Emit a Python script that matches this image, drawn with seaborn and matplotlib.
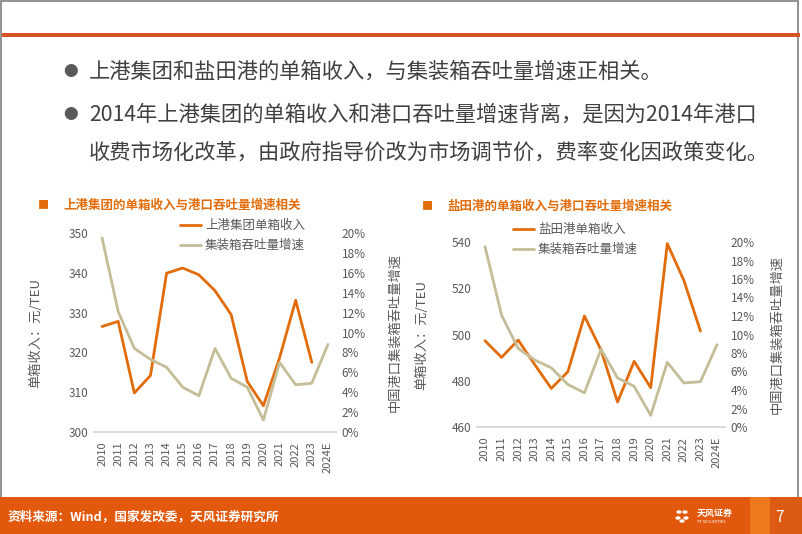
import numpy as np
import pandas as pd
import matplotlib
matplotlib.use('Agg')
import matplotlib.pyplot as plt
import seaborn as sns
from matplotlib.patches import Rectangle
from matplotlib.lines import Line2D

sns.set_theme(style='white')
plt.rcParams['font.family'] = ['Noto Sans CJK SC', 'DejaVu Sans']
plt.rcParams['axes.unicode_minus'] = False

# Daten
years = ['2010', '2011', '2012', '2013', '2014', '2015', '2016', '2017',
         '2018', '2019', '2020', '2021', '2022', '2023', '2024E']
sipg_income = [326.5, 327.8, 309.8, 314.2, 339.9, 341.2, 339.5, 335.5,
               329.5, 312.7, 306.6, 318.6, 333.1, 317.5, np.nan]
yantian_income = [497.3, 490.1, 497.6, 487.0, 476.7, 483.9, 508.0, 493.3,
                  470.8, 488.4, 477.0, 539.3, 523.4, 501.5, np.nan]
growth_left = [19.5, 12.1, 8.4, 7.3, 6.5, 4.5, 3.65, 8.4,
               5.4, 4.5, 1.2, 7.0, 4.75, 4.9, 8.8]
growth_right = [19.5, 12.1, 8.5, 7.24, 6.4, 4.6, 3.7, 8.4,
                5.3, 4.4, 1.26, 7.0, 4.76, 4.9, 8.9]

bullets = ['上港集团和盐田港的单箱收入，与集装箱吞吐量增速正相关。',
           '2014年上港集团的单箱收入和港口吞吐量增速背离，是因为2014年港口',
           '收费市场化改革，由政府指导价改为市场调节价，费率变化因政策变化。']
source = '资料来源：Wind，国家发改委，天风证券研究所'

ORANGE = '#E36C0A'
TAN = '#C4BD97'
GREY = '#595959'

W, H = 802, 534
fig = plt.figure(figsize=(W / 100, H / 100), dpi=100)


def px(x, y):
    # Pixel -> Figure-Koordinaten
    return x / W, 1 - y / H


# Rahmen und Kopfzeile
fig.patches.append(Rectangle((0.5 / W, 0), 797.5 / W, 1 - 0.5 / H, transform=fig.transFigure,
                             fill=False, edgecolor='#7F7F7F', lw=1.2, zorder=0))
fig.patches.append(Rectangle(px(2, 37), 798 / W, 4.5 / H, transform=fig.transFigure,
                             color='#D5541F', lw=0, zorder=1))

# Stichpunkte
for y, txt, dot in [(72, bullets[0], True), (115, bullets[1], True), (153, bullets[2], False)]:
    if dot:
        fig.text(*px(71, y), '●', fontsize=10.5, color=GREY, ha='center', va='center')
    fig.text(*px(89, y), txt, fontsize=15.3, color='#404040', ha='left', va='center')

# Fusszeile
fig.patches.append(Rectangle((0, 0), 1, 37 / H, transform=fig.transFigure,
                             color='#E2580D', lw=0, zorder=1))
fig.patches.append(Rectangle((750 / W, 0), 20 / W, 37 / H, transform=fig.transFigure,
                             color='#EC7A1C', lw=0, zorder=1))
fig.patches.append(Rectangle((770 / W, 0), 32 / W, 37 / H, transform=fig.transFigure,
                             color='#DC5A12', lw=0, zorder=1))
fig.text(*px(8, 517), source, fontsize=9.1, color='white', weight='bold', ha='left', va='center')
for dx, dy in [(-3, -4), (3, -4), (-4, 2), (4, 2), (0, 5)]:
    fig.patches.append(plt.Circle(px(682 + dx, 516 + dy), 2.6 / W, transform=fig.transFigure,
                                  color='white', lw=0, zorder=2))
fig.text(*px(697, 513), '天风证券', fontsize=6.5, color='white', weight='bold', ha='left', va='center')
fig.text(*px(697, 522), 'TF SECURITIES', fontsize=3, color='white', ha='left', va='center')
fig.text(*px(779, 517), '7', fontsize=11, color='white', ha='center', va='center')


def draw_chart(rect, income, growth, ylim, yticks, title, title_xy, inc_label,
               legend_xy, ylab_x, y2lab_x):
    ax = fig.add_axes(rect)
    x = np.arange(len(years))
    df = pd.DataFrame({'x': x, 'income': income, 'growth': growth})
    sns.lineplot(data=df, x='x', y='income', ax=ax, color=ORANGE, lw=2, label=inc_label)
    ax.set_xlim(-0.5, len(years) - 0.5)
    ax.set_ylim(*ylim)
    ax.set_yticks(yticks)
    ax.set_xticks(x)
    ax.set_xticklabels(years, rotation=90)
    ax2 = ax.twinx()
    sns.lineplot(data=df, x='x', y='growth', ax=ax2, color=TAN, lw=2, label='集装箱吞吐量增速')
    ax2.set_ylim(0, 20)
    ax2.set_yticks(range(0, 21, 2))
    ax2.set_yticklabels([f'{v}%' for v in range(0, 21, 2)])
    for a in (ax, ax2):
        for s in ['top', 'left', 'right']:
            a.spines[s].set_visible(False)
        a.spines['bottom'].set_color('#D9D9D9')
        a.tick_params(length=0, labelsize=8.5, labelcolor=GREY, pad=4)
        a.set_xlabel('')
        if a.get_legend():
            a.get_legend().remove()
    ax.tick_params(axis='x', pad=7, labelsize=8)
    ax.set_ylabel('单箱收入：元/TEU', fontsize=9.5, color=GREY)
    ax.yaxis.set_label_coords(ylab_x, 0.5)
    ax2.set_ylabel('中国港口集装箱吞吐量增速', fontsize=9.5, color=GREY)
    ax2.yaxis.set_label_coords(y2lab_x, 0.5)
    handles = [Line2D([], [], color=ORANGE, lw=2), Line2D([], [], color=TAN, lw=2)]
    fig.legend(handles, [inc_label, '集装箱吞吐量增速'], loc='upper left',
               bbox_to_anchor=px(*legend_xy), frameon=False, fontsize=9,
               labelcolor=GREY, handlelength=1.7, handletextpad=0.3,
               borderpad=0, borderaxespad=0, labelspacing=0.55)
    fig.text(*px(title_xy[0], title_xy[1]), '■', fontsize=8, color=ORANGE, ha='center', va='center')
    fig.text(*px(title_xy[0] + 20, title_xy[1]), title, fontsize=9, color=ORANGE,
             weight='bold', ha='left', va='center')
    return ax


draw_chart([94 / W, 1 - 432 / H, 242 / W, 199 / H], sipg_income, growth_left,
           (300, 350), range(300, 351, 10), '上港集团的单箱收入与港口吞吐量增速相关',
           (43, 205), '上港集团单箱收入', (180, 219), -0.215, 1.215)
draw_chart([476.7 / W, 1 - 427 / H, 248.6 / W, 185 / H], yantian_income, growth_right,
           (460, 540), range(460, 541, 20), '盐田港的单箱收入与港口吞吐量增速相关',
           (427, 206), '盐田港单箱收入', (513, 223), -0.196, 1.18)

fig.savefig('out.png', dpi=100)
